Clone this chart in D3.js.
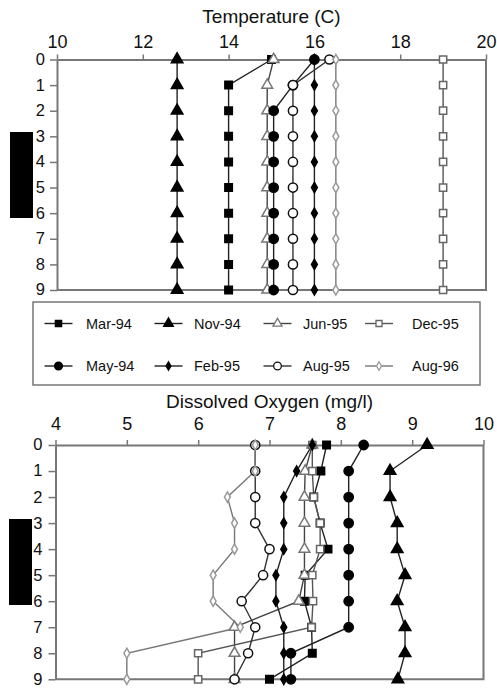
<!DOCTYPE html>
<html>
<head>
<meta charset="utf-8">
<script src="https://cdn.jsdelivr.net/npm/d3@7"></script>
<style>
  body { margin: 0; background: #fff; }
  svg { display: block; font-family: "Liberation Sans", Arial, sans-serif; }
</style>
</head>
<body>
<div id="root"></div>
<script>
// depth rows 0..9
const depths = [0, 1, 2, 3, 4, 5, 6, 7, 8, 9]
const seriesNames = ['Mar-94', 'Nov-94', 'Jun-95', 'Dec-95', 'May-94', 'Feb-95', 'Aug-95', 'Aug-96']

// temperature (C) per series
const tempMar94 = [15.0, 14.0, 14.0, 14.0, 14.0, 14.0, 14.0, 14.0, 14.0, 14.0]
const tempNov94 = [12.8, 12.8, 12.8, 12.8, 12.8, 12.8, 12.8, 12.8, 12.8, 12.8]
const tempJun95 = [15.05, 14.9, 14.9, 14.9, 14.9, 14.9, 14.9, 14.9, 14.9, 14.9]
const tempDec95 = [19.0, 19.0, 19.0, 19.0, 19.0, 19.0, 19.0, 19.0, 19.0, 19.0]
const tempMay94 = [16.0, 15.5, 15.05, 15.05, 15.05, 15.05, 15.05, 15.05, 15.05, 15.05]
const tempFeb95 = [16.0, 16.0, 16.0, 16.0, 16.0, 16.0, 16.0, 16.0, 16.0, 16.0]
const tempAug95 = [16.35, 15.5, 15.5, 15.5, 15.5, 15.5, 15.5, 15.5, 15.5, 15.5]
const tempAug96 = [16.5, 16.5, 16.5, 16.5, 16.5, 16.5, 16.5, 16.5, 16.5, 16.5]

// dissolved oxygen (mg/l) per series
const doMar94 = [7.80, 7.72, 7.62, 7.71, 7.82, 7.50, 7.49, 7.59, 7.60, 7.00]
const doNov94 = [9.21, 8.69, 8.69, 8.79, 8.79, 8.90, 8.79, 8.90, 8.90, 8.80]
const doJun95 = [7.60, 7.50, 7.49, 7.49, 7.49, 7.49, 7.41, 6.51, 6.51, 6.51]
const doDec95 = [7.60, 7.60, 7.62, 7.71, 7.71, 7.60, 7.61, 7.59, 6.00, 6.00]
const doMay94 = [8.32, 8.11, 8.11, 8.11, 8.11, 8.11, 8.11, 8.11, 7.30, 7.30]
const doFeb95 = [7.60, 7.38, 7.20, 7.20, 7.20, 7.09, 7.09, 7.20, 7.20, 7.20]
const doAug95 = [6.80, 6.80, 6.80, 6.80, 7.00, 6.91, 6.61, 6.80, 6.70, 6.51]
const doAug96 = [6.80, 6.80, 6.41, 6.51, 6.51, 6.21, 6.21, 6.59, 5.00, 5.00]

const tempTicks = [10, 12, 14, 16, 18, 20]
const doTicks = [4, 5, 6, 7, 8, 9, 10]

const tempSeries = [tempMar94, tempNov94, tempJun95, tempDec95, tempMay94, tempFeb95, tempAug95, tempAug96]
const doSeries = [doMar94, doNov94, doJun95, doDec95, doMay94, doFeb95, doAug95, doAug96]

// marker styles, same order as seriesNames
const styles = [
  { type: d3.symbolSquare, size: 56, fill: '#000', stroke: '#000', line: '#222' },
  { type: d3.symbolTriangle, size: 58, fill: '#000', stroke: '#000', line: '#222' },
  { type: d3.symbolTriangle, size: 50, fill: '#fff', stroke: '#777', line: '#444' },
  { type: d3.symbolSquare, size: 52, fill: '#fff', stroke: '#666', line: '#555' },
  { type: d3.symbolCircle, size: 68, fill: '#000', stroke: '#000', line: '#222' },
  { type: d3.symbolDiamond, size: 30, fill: '#000', stroke: '#000', line: '#222' },
  { type: d3.symbolCircle, size: 66, fill: '#fff', stroke: '#111', line: '#333' },
  { type: d3.symbolDiamond, size: 30, fill: '#fff', stroke: '#999', line: '#777' }
]

const width = 497
const height = 688
const axisColor = '#777'

const svg = d3.select('#root').append('svg')
  .attr('width', width)
  .attr('height', height)

function drawPanel (opts) {
  const x = d3.scaleLinear().domain(opts.domain).range([opts.left, opts.right])
  const y = d3.scaleLinear().domain([0, 9]).range([opts.top, opts.bottom])
  const g = svg.append('g')

  // box right + bottom
  g.append('path')
    .attr('d', `M${opts.left},${opts.bottom}H${opts.right}V${opts.top}`)
    .attr('fill', 'none')
    .attr('stroke', axisColor)
    .attr('stroke-width', 2)

  const xAxis = g.append('g')
    .attr('transform', `translate(0,${opts.top})`)
    .call(d3.axisTop(x).tickValues(opts.ticks).tickFormat(d3.format('d'))
      .tickSize(5).tickPadding(opts.xPad).tickSizeOuter(0))
  const yAxis = g.append('g')
    .attr('transform', `translate(${opts.left},0)`)
    .call(d3.axisLeft(y).tickValues(depths).tickFormat(d3.format('d'))
      .tickSize(7).tickPadding(opts.yPad).tickSizeOuter(0))

  ;[xAxis, yAxis].forEach(a => {
    a.attr('font-size', null).attr('font-family', null)
    a.select('.domain').attr('stroke', axisColor).attr('stroke-width', 2)
    a.selectAll('.tick line').attr('stroke', axisColor).attr('stroke-width', 1.5)
    a.selectAll('.tick text').attr('fill', '#111')
  })
  xAxis.selectAll('.tick text').style('font-size', '18px')
  yAxis.selectAll('.tick text').style('font-size', '16.5px').attr('dy', '0.3em')

  g.append('text')
    .attr('x', (opts.left + opts.right) / 2)
    .attr('y', opts.titleY)
    .attr('text-anchor', 'middle')
    .attr('fill', '#111')
    .style('font-size', '19px')
    .text(opts.title)

  const line = d3.line()
    .x(d => x(d[1]))
    .y(d => y(d[0]))

  opts.series.forEach((vals, i) => {
    const pts = depths.map((d, j) => [d, vals[j]])
    g.append('path')
      .datum(pts)
      .attr('d', line)
      .attr('fill', 'none')
      .attr('stroke', styles[i].line)
      .attr('stroke-width', 1.4)
  })

  opts.series.forEach((vals, i) => {
    const s = styles[i]
    const pts = depths.map((d, j) => [d, vals[j]])
    g.selectAll(null)
      .data(pts)
      .enter()
      .append('path')
      .attr('transform', d => `translate(${x(d[1])},${y(d[0])})`)
      .attr('d', d3.symbol().type(s.type).size(s.size))
      .attr('fill', s.fill)
      .attr('stroke', s.stroke)
      .attr('stroke-width', 1.5)
  })

  // black side marker
  g.append('rect')
    .attr('x', opts.barX)
    .attr('y', opts.barY)
    .attr('width', 23)
    .attr('height', 86)
    .attr('fill', '#000')
}

drawPanel({
  domain: [10, 20], ticks: tempTicks, series: tempSeries,
  left: 57, right: 486, top: 59.5, bottom: 290,
  xPad: 7, yPad: 5, title: 'Temperature (C)', titleY: 23,
  barX: 10, barY: 132
})

drawPanel({
  domain: [4, 10], ticks: doTicks, series: doSeries,
  left: 55.5, right: 483.5, top: 445, bottom: 679.3,
  xPad: 10, yPad: 6, title: 'Dissolved Oxygen (mg/l)', titleY: 408,
  barX: 9, barY: 519
})

// legend
const legend = svg.append('g')
legend.append('rect')
  .attr('x', 33).attr('y', 302)
  .attr('width', 447).attr('height', 83)
  .attr('fill', 'none')
  .attr('stroke', axisColor)
  .attr('stroke-width', 1.5)

const colX = [58.5, 168.5, 277.5, 379]
const textX = [86, 194, 303, 412]
const rowY = [323.5, 366]

seriesNames.forEach((name, i) => {
  const col = i % 4
  const row = Math.floor(i / 4)
  const s = styles[i]
  const cx = colX[col]
  const cy = rowY[row]
  legend.append('line')
    .attr('x1', cx - 14).attr('x2', cx + 14)
    .attr('y1', cy).attr('y2', cy)
    .attr('stroke', s.line)
    .attr('stroke-width', 1.4)
  legend.append('path')
    .attr('transform', `translate(${cx},${cy})`)
    .attr('d', d3.symbol().type(s.type).size(s.size * 0.7))
    .attr('fill', s.fill)
    .attr('stroke', s.stroke)
    .attr('stroke-width', 1.3)
  legend.append('text')
    .attr('x', textX[col])
    .attr('y', cy + 5)
    .attr('fill', '#111')
    .style('font-size', '14.5px')
    .text(name)
})
</script>
</body>
</html>
